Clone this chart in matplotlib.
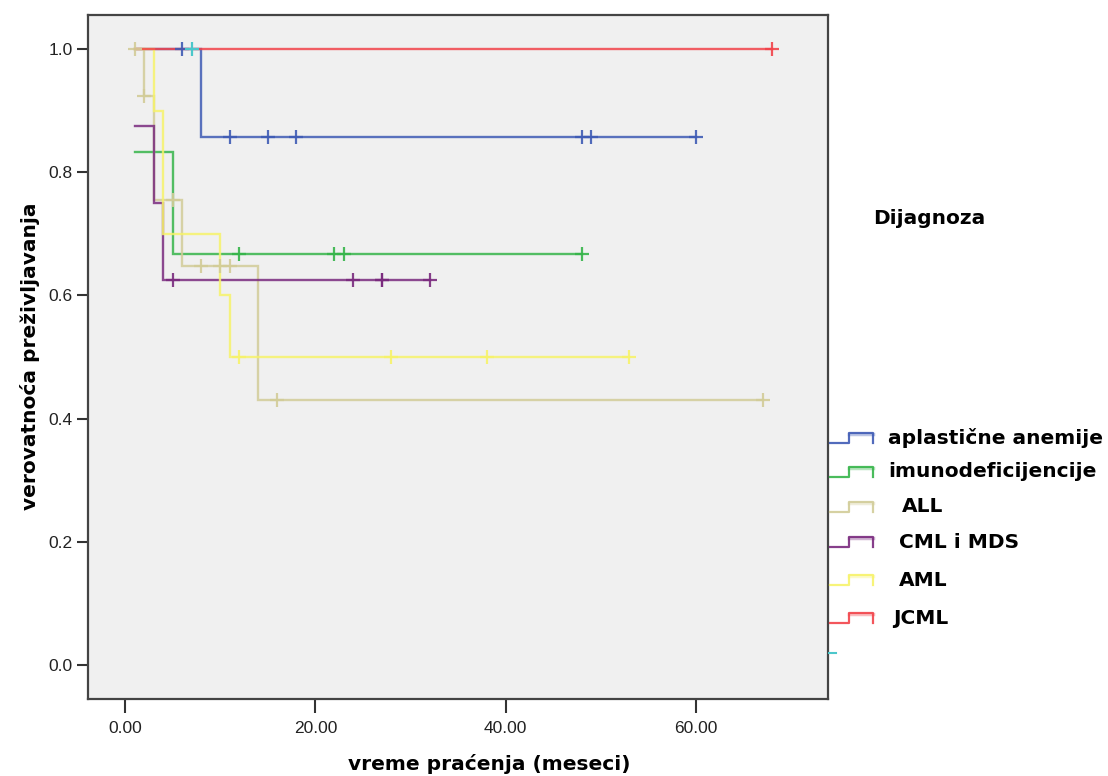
import numpy as np
import matplotlib
matplotlib.use("Agg")
import matplotlib.pyplot as plt
from matplotlib.lines import Line2D

# ---------------- data ----------------
groups = ["aplastične anemije", "imunodeficijencije", "ALL", "CML i MDS", "AML", "JCML"]
colors = ["#3F5BB5", "#36B54A", "#D2CC98", "#7A2A7E", "#F7F36A", "#F2434A"]
cyan_color = "#4CC7CB"

# step times and survival value after each time
aa_t = [1, 8, 60]
aa_s = [1.0, 0.857, 0.857]
aa_c = [6, 11, 15, 18, 48, 49, 60]

im_t = [1, 5, 48]
im_s = [0.833, 0.667, 0.667]
im_c = [12, 22, 23, 48]

all_t = [1, 2, 3, 6, 14, 67]
all_s = [1.0, 0.923, 0.755, 0.647, 0.431, 0.431]
all_c = [1, 2, 5, 8, 10, 11, 16, 67]

cml_t = [1, 3, 4, 32]
cml_s = [0.875, 0.75, 0.625, 0.625]
cml_c = [5, 24, 27, 27, 32]

aml_t = [1, 3, 4, 10, 11, 53]
aml_s = [1.0, 0.9, 0.7, 0.6, 0.5, 0.5]
aml_c = [12, 28, 38, 53]

jcml_t = [1, 68]
jcml_s = [1.0, 1.0]
jcml_c = [68]

cyan_c_t = [7]
cyan_c_s = [1.0]

xticks = [0, 20, 40, 60]
xticklabels = ["0.00", "20.00", "40.00", "60.00"]
yticks = [0.0, 0.2, 0.4, 0.6, 0.8, 1.0]
yticklabels = ["0.0", "0.2", "0.4", "0.6", "0.8", "1.0"]

series = [(aa_t, aa_s, aa_c), (im_t, im_s, im_c), (all_t, all_s, all_c),
          (cml_t, cml_s, cml_c), (aml_t, aml_s, aml_c), (jcml_t, jcml_s, jcml_c)]

# ---------------- figure ----------------
W, H = 1108, 776
fig = plt.figure(figsize=(W / 100, H / 100), dpi=100)
fig.patch.set_facecolor("white")

L, R, T, B = 88, 828, 15, 699
ax = fig.add_axes([L / W, 1 - B / H, (R - L) / W, (B - T) / H])
ax.set_facecolor("#F0F0F0")
ax.set_xlim(-3.89, 73.87)
ax.set_ylim(-0.0552, 1.0552)

def step_val(t, s, x):
    i = np.searchsorted(np.asarray(t), x, side="right") - 1
    i = max(i, 0)
    return s[i]

# draw red first (underneath), then others
order = [5, 0, 1, 2, 3, 4]
for k in order:
    t, s, c = series[k]
    ax.plot(t, s, drawstyle="steps-post", color=colors[k], lw=1.7, alpha=0.85,
            solid_joinstyle="miter", zorder=2 + k * 0.1)
    cy = [step_val(t, s, x) for x in c]
    ax.plot(c, cy, linestyle="none", marker="+", ms=10, mew=1.6,
            color=colors[k], alpha=0.9, zorder=3 + k * 0.1)
ax.plot(cyan_c_t, cyan_c_s, linestyle="none", marker="+", ms=10, mew=1.6,
        color=cyan_color, zorder=4)

ax.set_xticks(xticks)
ax.set_xticklabels(xticklabels, fontfamily="Liberation Sans", fontsize=12.5, color="#222222")
ax.set_yticks(yticks)
ax.set_yticklabels(yticklabels, fontfamily="Liberation Sans", fontsize=12.5, color="#222222")
ax.tick_params(axis="x", length=10, width=1.5, color="#333333", pad=6)
ax.tick_params(axis="y", length=8, width=1.5, color="#333333", pad=3)
for sp in ax.spines.values():
    sp.set_color("#444444")
    sp.set_linewidth(1.6)

# ---------------- axis titles & legend (figure coordinates) ----------------
def fx(px):
    return px / W

def fy(py):
    return 1 - py / H

fig.text(fx(489), fy(764), "vreme praćenja (meseci)", fontfamily="DejaVu Sans",
         fontweight="bold", fontsize=14.5, ha="center", va="center")
fig.text(fx(30), fy(356), "verovatnoća preživljavanja", fontfamily="DejaVu Sans",
         fontweight="bold", fontsize=14.5, ha="center", va="center", rotation=90)

fig.text(fx(873), fy(218), "Dijagnoza", fontfamily="DejaVu Sans", fontweight="bold",
         fontsize=14.5, va="center", ha="left")

leg_y = [438, 472, 507, 542, 580, 618]
leg_x = [888, 888, 902, 899, 899, 893]
for k, name in enumerate(groups):
    yc = leg_y[k]
    xs = [830, 849, 849, 873, 873]
    ys = [yc + 5, yc + 5, yc - 5, yc - 5, yc + 5]
    fig.add_artist(Line2D([fx(v) for v in xs], [fy(v) for v in ys],
                          color=colors[k], lw=1.6, alpha=0.9,
                          transform=fig.transFigure))
    fig.add_artist(Line2D([fx(849), fx(873)], [fy(yc - 4), fy(yc - 4)],
                          color=colors[k], lw=2.5, alpha=0.35,
                          transform=fig.transFigure))
    fig.text(fx(leg_x[k]), fy(yc), name, fontfamily="DejaVu Sans", fontweight="bold",
             fontsize=14.5, va="center", ha="left")

fig.add_artist(Line2D([fx(829), fx(836)], [fy(653), fy(653)], color=cyan_color,
                      lw=1.5, transform=fig.transFigure))

fig.savefig("out.png", dpi=100, facecolor="white")
